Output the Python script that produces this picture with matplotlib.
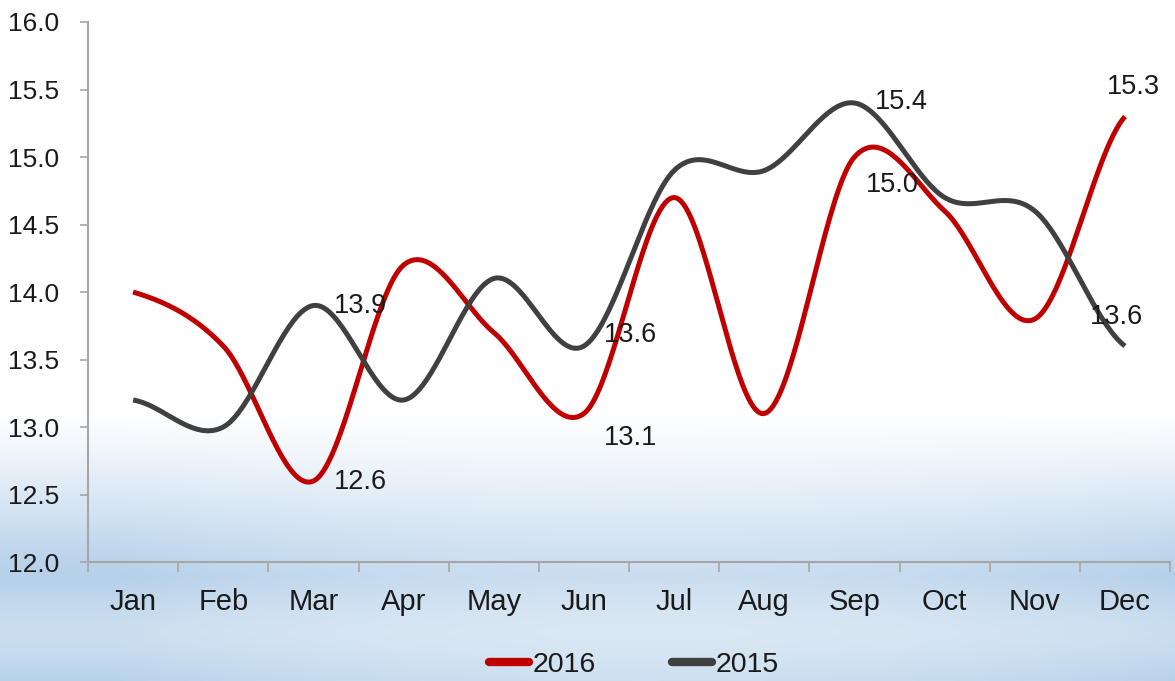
import numpy as np
import matplotlib
matplotlib.use("Agg")
import matplotlib.pyplot as plt
from matplotlib.lines import Line2D

plt.rcParams['font.family'] = ['Liberation Sans', 'DejaVu Sans']

months = ["Jan", "Feb", "Mar", "Apr", "May", "Jun",
          "Jul", "Aug", "Sep", "Oct", "Nov", "Dec"]
vals_2016 = [14.0, 13.6, 12.6, 14.2, 13.7, 13.1, 14.7, 13.1, 15.0, 14.6, 13.8, 15.3]
vals_2015 = [13.2, 13.0, 13.9, 13.2, 14.1, 13.6, 14.9, 14.9, 15.4, 14.7, 14.6, 13.6]
yticks = [12.0, 12.5, 13.0, 13.5, 14.0, 14.5, 15.0, 15.5, 16.0]

# which points carry a value label, and where (pixel offset from the point)
labels_2016 = {2: (20, -1), 5: (20, -24), 8: (11, -28), 11: (-18, 30)}
labels_2015 = {2: (20, 0), 5: (20, 11), 8: (20, 1), 11: (-35, 29)}

RED = "#c00000"
GRAY = "#404040"


def smooth(y, n=40):
    # catmull-rom style smoothing like excel's "smoothed line"
    y = np.asarray(y, dtype=float)
    x = np.arange(len(y), dtype=float)
    m = np.zeros_like(y)
    m[1:-1] = (y[2:] - y[:-2]) / 2
    m[0] = (y[1] - y[0]) / 2
    m[-1] = (y[-1] - y[-2]) / 2
    xs, ys = [], []
    for i in range(len(y) - 1):
        t = np.linspace(0, 1, n, endpoint=(i == len(y) - 2))
        h00 = 2 * t**3 - 3 * t**2 + 1
        h10 = t**3 - 2 * t**2 + t
        h01 = -2 * t**3 + 3 * t**2
        h11 = t**3 - t**2
        xs.append(x[i] + t)
        ys.append(h00 * y[i] + h10 * m[i] + h01 * y[i + 1] + h11 * m[i + 1])
    return np.concatenate(xs), np.concatenate(ys)


fig = plt.figure(figsize=(11.75, 6.81), dpi=100)

# background gradient: white on top, pale blue towards the bottom
bg = fig.add_axes([0, 0, 1, 1], zorder=-10)
H, W = 300, 400
yy = np.linspace(1, 0, H)[:, None]
xx = np.linspace(0, 1, W)[None, :]
vert = np.clip((0.40 - yy) / 0.25, 0, 1) ** 1.2
vert = vert * (1 - 0.35 * np.exp(-((yy - 0.07) / 0.07) ** 2))
edge = np.clip(np.abs(xx - 0.55) / 0.45, 0, 1) ** 2
amt = vert * (0.75 + 0.3 * edge)
blue = np.array([0.70, 0.81, 0.91])
img = 1 - np.clip(amt, 0, 1)[..., None] * (1 - blue[None, None, :])
bg.imshow(img, aspect='auto', extent=[0, 1, 0, 1], interpolation='bilinear')
bg.axis('off')

ax = fig.add_axes([0.0749, 0.1747, 0.9209, 0.7930])
ax.patch.set_alpha(0)

x = np.arange(len(months))
sx, sy = smooth(vals_2016)
ax.plot(sx, sy, color=RED, lw=3.6, solid_capstyle='butt', zorder=3)
sx, sy = smooth(vals_2015)
ax.plot(sx, sy, color=GRAY, lw=3.6, solid_capstyle='butt', zorder=4)

for vals, lab in [(vals_2016, labels_2016), (vals_2015, labels_2015)]:
    for i, off in lab.items():
        ax.annotate(f"{vals[i]:.1f}", (x[i], vals[i]), xytext=off,
                    textcoords='offset pixels', ha='left', va='center',
                    fontsize=19.5, color='#1a1a1a', zorder=5)

ax.set_xlim(-0.5, 11.5)
ax.set_ylim(12.0, 16.0)
ax.set_yticks(yticks)
ax.set_yticklabels([f"{v:.1f}" for v in yticks])
ax.tick_params(axis='y', length=6, width=1.2, color='#a6a6a6', pad=15,
               labelsize=19, labelcolor='#1a1a1a')

ax.set_xticks(np.arange(-0.5, 12, 1))
ax.set_xticklabels([])
ax.tick_params(axis='x', which='major', length=7, width=1.2, color='#a6a6a6')
ax.set_xticks(x, minor=True)
ax.set_xticklabels(months, minor=True)
ax.tick_params(axis='x', which='minor', length=0, pad=19,
               labelsize=21, labelcolor='#1a1a1a')

for s in ['top', 'right']:
    ax.spines[s].set_visible(False)
for s in ['left', 'bottom']:
    ax.spines[s].set_color('#a6a6a6')
    ax.spines[s].set_linewidth(1.5)

handles = [Line2D([], [], color=RED, lw=6, solid_capstyle='round'),
           Line2D([], [], color=GRAY, lw=6, solid_capstyle='round')]
fig.legend(handles, ["2016", "2015"], loc='center', ncol=2,
           bbox_to_anchor=(0.5396, 0.0235), frameon=False, fontsize=20.5,
           handlelength=1.4, handletextpad=0.12, columnspacing=2.7,
           labelcolor='#1a1a1a')

fig.savefig("out.png", dpi=100)
